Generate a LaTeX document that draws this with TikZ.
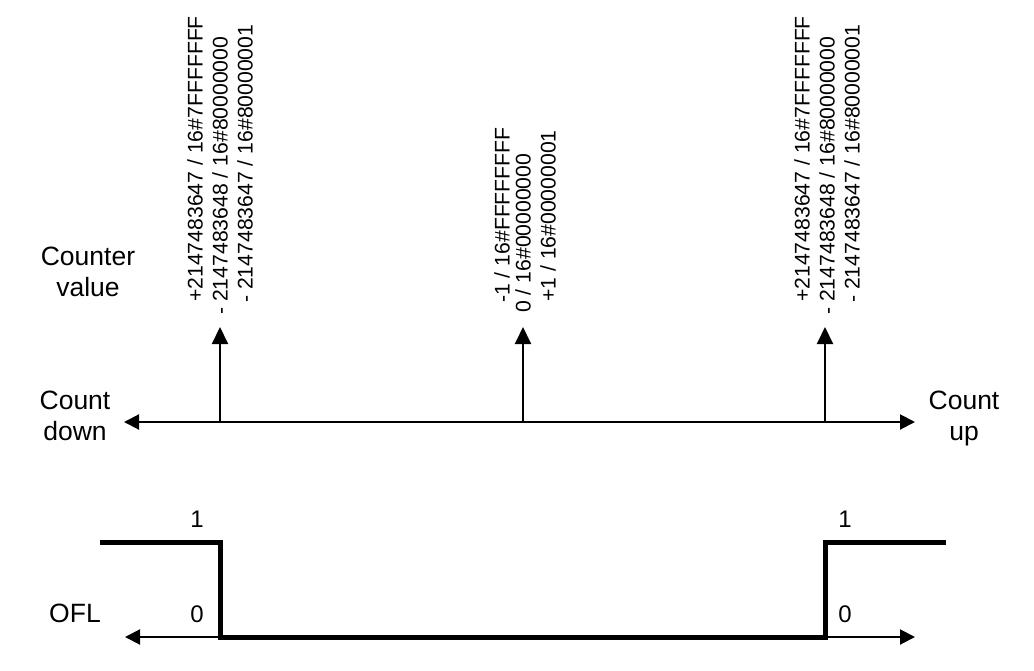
\documentclass[tikz,border=0pt]{standalone}
\usepackage{fontspec}
\setmainfont{Liberation Sans}
\usetikzlibrary{arrows.meta}
\begin{document}
\begin{tikzpicture}[x=1pt,y=-1pt,
  lbl/.style={inner sep=0pt,font=\fontsize{26.5}{31}\selectfont},
  val/.style={inner sep=0pt,rotate=90,anchor=base west,font=\fontsize{21.2}{25}\selectfont},
  lvl/.style={inner sep=0pt,font=\fontsize{24}{28}\selectfont},
  axis/.style={line width=2pt},
  varrow/.style={line width=2pt,-{Triangle[length=17pt,width=16pt]}},
  harrow/.style={line width=2pt,-{Triangle[length=15pt,width=15pt]}},
  sig/.style={line width=5pt,line join=miter,line cap=butt}]
\useasboundingbox (0,0) rectangle (1034,670);
% labels
\node[lbl,anchor=base] (cv1) at (88,265) {Counter};
\node[lbl,anchor=base] (cv2) at (88,296) {value};
\node[lbl,anchor=base] (cd1) at (75,409) {Count};
\node[lbl,anchor=base] (cd2) at (75,440) {down};
\node[lbl,anchor=base] (cu1) at (964,409) {Count};
\node[lbl,anchor=base] (cu2) at (964,440) {up};
\node[lbl,anchor=base] (ofl) at (75,622) {OFL};
\node[lvl,anchor=base] (l1a) at (197,527) {1};
\node[lvl,anchor=base] (l0a) at (197,622) {0};
\node[lvl,anchor=base] (l1b) at (845,527) {1};
\node[lvl,anchor=base] (l0b) at (845,622) {0};
% value labels
\node[val] (a1) at (202.5,302) {+2147483647 / 16\#7FFFFFFF};
\node[val] (a2) at (227.5,315) {- 2147483648 / 16\#80000000};
\node[val] (a3) at (252.5,303) {- 2147483647 / 16\#80000001};
\node[val] (b1) at (509.5,303) {-1 / 16\#FFFFFFFF};
\node[val] (b2) at (530.5,313) {0 / 16\#00000000};
\node[val] (b3) at (555.5,302) {+1 / 16\#00000001};
\node[val] (c1) at (809.5,302) {+2147483647 / 16\#7FFFFFFF};
\node[val] (c2) at (834.5,315) {- 2147483648 / 16\#80000000};
\node[val] (c3) at (859.5,303) {- 2147483647 / 16\#80000001};
% axis coordinates
\coordinate (axL) at (124,422);
\coordinate (axR) at (915,422);
\coordinate (pA) at (220,422);
\coordinate (pB) at (523,422);
\coordinate (pC) at (825,422);
\coordinate (tA) at (220,327);
\coordinate (tB) at (523,327);
\coordinate (tC) at (825,327);
\draw[axis,{Triangle[length=15pt,width=15pt]}-{Triangle[length=15pt,width=15pt]}] (axL) -- (axR);
\draw[varrow] (pA) -- (tA);
\draw[varrow] (pB) -- (tB);
\draw[varrow] (pC) -- (tC);
% OFL signal
\coordinate (s0) at (100,542);
\coordinate (s1) at (220,542);
\coordinate (s2) at (220,637);
\coordinate (s3) at (825,637);
\coordinate (s4) at (825,542);
\coordinate (s5) at (946,542);
\coordinate (oL) at (125,637);
\coordinate (oR) at (915,637);
\draw[harrow] (s2) -- (oL);
\draw[harrow] (s3) -- (oR);
\draw[sig] (s0) -- (s1) -- (s2) -- (s3) -- (s4) -- (s5);
\end{tikzpicture}
\end{document}
